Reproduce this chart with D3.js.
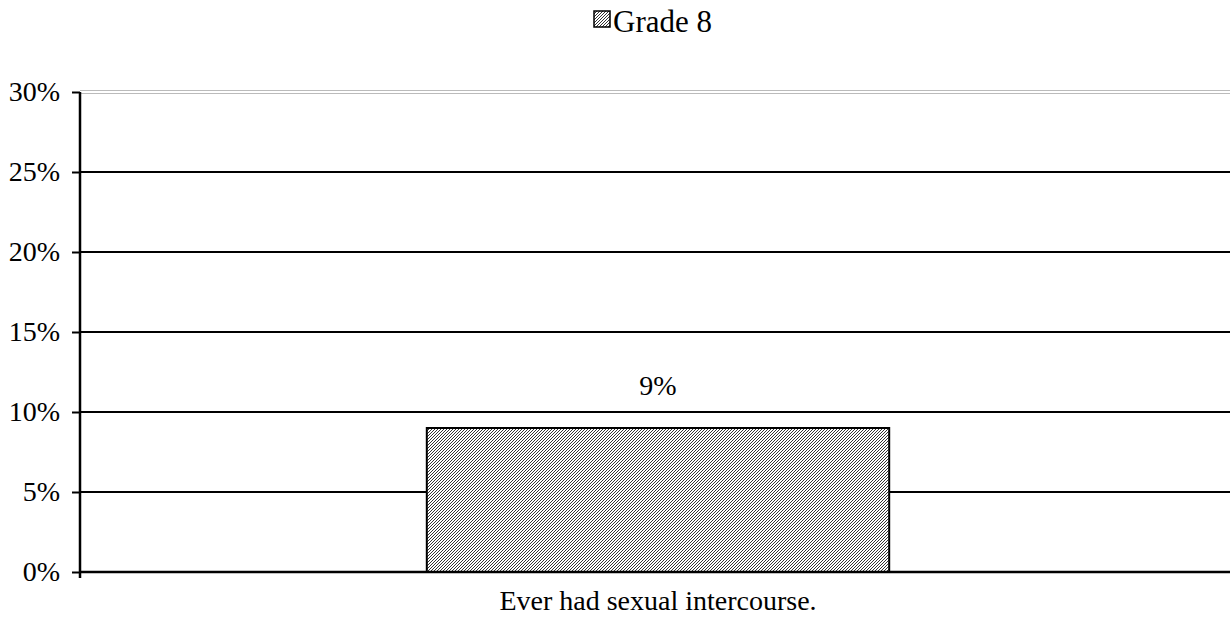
<!DOCTYPE html>
<html>
<head>
<meta charset="utf-8">
<script src="https://cdn.jsdelivr.net/npm/d3@7"></script>
</head>
<body style="margin:0">
<svg id="chart" width="1230" height="628" font-family="Liberation Serif"></svg>
<script>
const categories = ["Ever had sexual intercourse."];
const grade8 = [9];
const yTicks = [0, 5, 10, 15, 20, 25, 30];
const seriesName = "Grade 8";

const width = 1230,
  height = 628;
const margin = { top: 92, right: 0, bottom: 56, left: 80 };
const serif = "Liberation Serif";

const svg = d3.select("#chart");

// hatch fill like the original
const defs = svg.append("defs");
const pat = defs
  .append("pattern")
  .attr("id", "hatch")
  .attr("patternUnits", "userSpaceOnUse")
  .attr("width", 3)
  .attr("height", 3);
pat.append("rect").attr("width", 3).attr("height", 3).attr("fill", "#fff");
pat
  .append("path")
  .attr("d", "M-1,1 L1,-1 M0,3 L3,0 M2,4 L4,2")
  .attr("stroke", "#000")
  .attr("stroke-width", 0.8);

const x = d3
  .scaleBand()
  .domain(categories)
  .range([margin.left, 1236])
  .paddingInner(0)
  .paddingOuter(0.75);

const y = d3
  .scaleLinear()
  .domain([0, 30])
  .range([height - margin.bottom, margin.top]);

// gridlines
svg
  .append("g")
  .selectAll("line")
  .data(yTicks.filter((t) => t > 0 && t < 30))
  .enter()
  .append("line")
  .attr("x1", margin.left)
  .attr("x2", width)
  .attr("y1", (d) => y(d))
  .attr("y2", (d) => y(d))
  .attr("stroke", "#000")
  .attr("stroke-width", 2);

// top line is a light double line
[-1.5, 1.5].forEach((off) => {
  svg
    .append("line")
    .attr("x1", margin.left)
    .attr("x2", width)
    .attr("y1", y(30) + off)
    .attr("y2", y(30) + off)
    .attr("stroke", "#bbb")
    .attr("stroke-width", 1);
});

// bars
svg
  .append("g")
  .selectAll("rect")
  .data(grade8)
  .enter()
  .append("rect")
  .attr("x", (d, i) => x(categories[i]))
  .attr("y", (d) => y(d))
  .attr("width", x.bandwidth())
  .attr("height", (d) => y(0) - y(d))
  .attr("fill", "url(#hatch)")
  .attr("stroke", "#000")
  .attr("stroke-width", 2);

// value labels
svg
  .append("g")
  .selectAll("text")
  .data(grade8)
  .enter()
  .append("text")
  .attr("x", (d, i) => x(categories[i]) + x.bandwidth() / 2)
  .attr("y", (d) => y(d) - 33)
  .attr("text-anchor", "middle")
  .attr("font-family", serif)
  .attr("font-size", 28)
  .text((d) => d + "%");

// x axis baseline
svg
  .append("line")
  .attr("x1", margin.left)
  .attr("x2", width)
  .attr("y1", y(0))
  .attr("y2", y(0))
  .attr("stroke", "#000")
  .attr("stroke-width", 2.5);

// y axis
const yAxis = svg
  .append("g")
  .attr("transform", `translate(${margin.left},0)`)
  .call(
    d3
      .axisLeft(y)
      .tickValues(yTicks)
      .tickSize(8)
      .tickPadding(12)
      .tickFormat((d) => d + "%")
  )
  .attr("font-family", serif)
  .attr("font-size", 28);
yAxis.select(".domain").attr("stroke-width", 2.5).attr("d", `M0,${y(30)}V${y(0) + 6}`);
yAxis.selectAll(".tick line").attr("stroke-width", 2);
yAxis.selectAll(".tick text").attr("fill", "#000");

// category labels
svg
  .append("g")
  .selectAll("text")
  .data(categories)
  .enter()
  .append("text")
  .attr("x", (d) => x(d) + x.bandwidth() / 2)
  .attr("y", y(0) + 38)
  .attr("text-anchor", "middle")
  .attr("font-family", serif)
  .attr("font-size", 28)
  .text((d) => d);

// legend
const legend = svg.append("g").attr("transform", "translate(594,11)");
legend
  .append("rect")
  .attr("width", 16)
  .attr("height", 16)
  .attr("fill", "url(#hatch)")
  .attr("stroke", "#000")
  .attr("stroke-width", 1.5);
legend
  .append("text")
  .attr("x", 19)
  .attr("y", 21)
  .attr("font-family", serif)
  .attr("font-size", 31)
  .text(seriesName);
</script>
</body>
</html>
